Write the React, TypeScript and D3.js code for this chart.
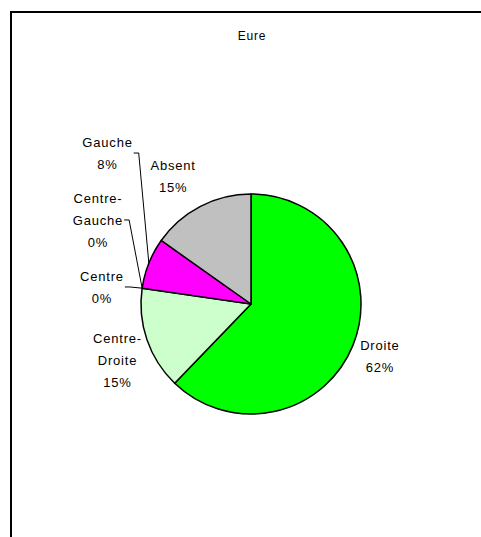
import React, { useEffect, useRef } from 'react';
import * as d3 from 'd3';

// share of each tendency
const categories = ['Droite', 'Centre-Droite', 'Centre', 'Centre-Gauche', 'Gauche', 'Absent'];
const values = [62.2, 15.1, 0, 0, 7.5, 15.2];
const colors = ['#00ff00', '#ccffcc', '#ffff99', '#ff99cc', '#ff00ff', '#c0c0c0'];
// label text as it wraps in the chart
const labelLines = [['Droite'], ['Centre-', 'Droite'], ['Centre'], ['Centre-', 'Gauche'], ['Gauche'], ['Absent']];
// labels that were dragged away from the pie and get a leader line
const labelNudge = [[0, 0], [-2, 11], [-11.5, 3], [-15.5, -64], [-14.4, -99.4], [-14, -4]];
const hasLeader = [false, false, true, true, true, false];

const title = 'Eure';

const App = () => {
  const ref = useRef<SVGSVGElement>(null);

  useEffect(() => {
    const svg = d3.select(ref.current);
    svg.selectAll('*').remove();

    const width = 481;
    const height = 537;
    const cx = 251;
    const cy = 304;
    const radius = 110;
    const lineH = 22;
    const font = '"Liberation Sans", Arial, sans-serif';

    // chart area frame (runs off the right and bottom of the picture)
    svg.append('rect')
      .attr('x', 11).attr('y', 12)
      .attr('width', 520).attr('height', 600)
      .attr('fill', '#fff')
      .attr('stroke', '#000')
      .attr('stroke-width', 2);

    svg.append('text')
      .attr('x', 252).attr('y', 40)
      .attr('text-anchor', 'middle')
      .style('font', `12px ${font}`)
      .style('letter-spacing', '0.8px')
      .text(title);

    const total = d3.sum(values);
    const data = categories.map((name, i) => ({ name, value: values[i], i }));

    const pie = d3.pie<any>().value(d => d.value).sort(null);
    const arcs = pie(data);
    const arc = d3.arc<any>().innerRadius(0).outerRadius(radius);
    const labelArc = d3.arc<any>().innerRadius(139).outerRadius(139);

    const g = svg.append('g').attr('transform', `translate(${cx},${cy})`);

    g.selectAll('path')
      .data(arcs.filter(d => d.data.value > 0))
      .join('path')
        .attr('d', arc)
        .attr('fill', d => colors[d.data.i])
        .attr('stroke', '#000')
        .attr('stroke-width', 1.5)
        .attr('stroke-linejoin', 'round');

    arcs.forEach(d => {
      const i = d.data.i;
      const [lx, ly] = labelArc.centroid(d);
      const x = lx + labelNudge[i][0];
      const y = ly + labelNudge[i][1];
      const lines = [...labelLines[i], `${Math.round(d.data.value / total * 100)}%`];
      const first = y - (lines.length - 1) * lineH / 2 + 4.65;

      const t = g.append('text')
        .attr('text-anchor', 'middle')
        .style('font', `13px ${font}`)
        .style('letter-spacing', '0.8px');
      lines.forEach((s, k) => {
        t.append('tspan').attr('x', x).attr('y', first + k * lineH).text(s);
      });

      if (hasLeader[i]) {
        const box = (t.node() as SVGTextElement).getBBox();
        const right = box.x + box.width + 1;
        const mid = (d.startAngle + d.endAngle) / 2;
        const px = radius * Math.sin(mid);
        const py = -radius * Math.cos(mid);
        g.append('path')
          .attr('d', d3.line()([[right, y], [right + 5, y], [px, py]]))
          .attr('fill', 'none')
          .attr('stroke', '#000')
          .attr('stroke-width', 1);
      }
    });
  }, []);

  return (
    <svg ref={ref} width={481} height={537}
      style={{ position: 'absolute', left: 0, top: 0, background: '#fff' }} />
  );
};

export default App;
